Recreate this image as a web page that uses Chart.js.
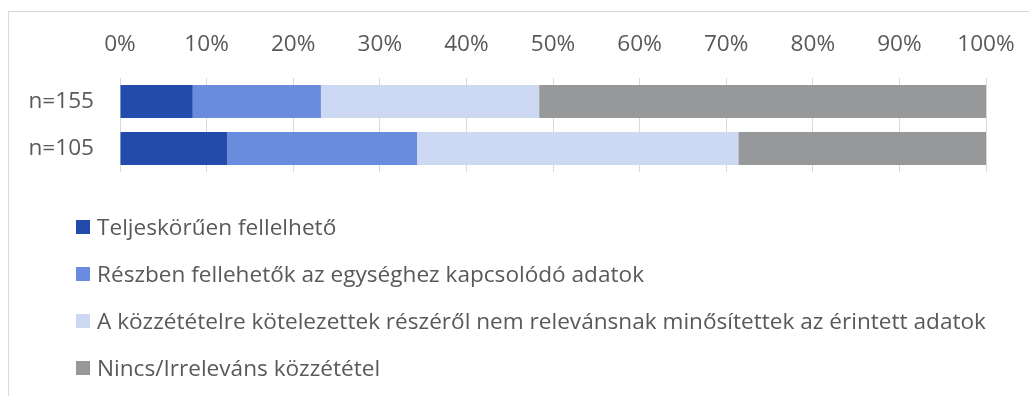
<!DOCTYPE html>
<html>
<head>
<meta charset="utf-8">
<script src="https://cdn.jsdelivr.net/npm/chart.js@4/dist/chart.umd.min.js"></script>
<style>
  html, body { margin: 0; padding: 0; width: 1029px; height: 396px; overflow: hidden; background: #fff; }
  #frame { position: absolute; left: 8px; top: 11px; width: 1100px; height: 500px; border: 1px solid #d9d9d9; box-sizing: border-box; }
  #wrap { position: absolute; left: 0; top: 0; width: 1029px; height: 396px; }
  #legend { position: absolute; left: 76px; top: 203px; margin: 0; padding: 0; list-style: none;
            font-family: "Open Sans", "Noto Sans", sans-serif; font-size: 22.6px; color: #595959; }
  #legend li { display: flex; align-items: center; height: 47px; white-space: nowrap; }
  #legend .sw { display: inline-block; width: 14px; height: 14px; margin-right: 7px; }
</style>
</head>
<body>
<div id="frame"></div>
<div id="wrap"><canvas id="c" width="1029" height="396"></canvas></div>
<ul id="legend"></ul>
<script>
// Row labels (sample sizes)
const categories = ["n=155", "n=105"];

// Series names
const seriesNames = [
  "Teljeskörűen fellelhető",
  "Részben fellehetők az egységhez kapcsolódó adatok",
  "A közzétételre kötelezettek részéről nem relevánsnak minősítettek az érintett adatok",
  "Nincs/Irreleváns közzététel"
];

// Share of each answer, percent of row
const fullyAvailable   = [8.4, 12.4];
const partlyAvailable  = [14.8, 21.9];
const notRelevant      = [25.2, 37.1];
const noneIrrelevant   = [51.6, 28.6];

// Axis ticks (percent)
const tickValues = [0, 10, 20, 30, 40, 50, 60, 70, 80, 90, 100];

const seriesColors = ["#234BAC", "#6A8CDF", "#CDD8F2", "#97989A"];
const seriesValues = [fullyAvailable, partlyAvailable, notRelevant, noneIrrelevant];

const FONT = "'Open Sans', 'Noto Sans', sans-serif";

const datasets = seriesNames.map((name, i) => ({
  label: name,
  data: seriesValues[i],
  backgroundColor: seriesColors[i],
  borderWidth: 0,
  barPercentage: 0.7,
  categoryPercentage: 1.0
}));

new Chart(document.getElementById("c"), {
  type: "bar",
  data: { labels: categories, datasets },
  options: {
    indexAxis: "y",
    responsive: false,
    animation: false,
    layout: { padding: { left: 0, top: 0, right: 43, bottom: 224 } },
    plugins: { legend: { display: false }, tooltip: { enabled: false } },
    scales: {
      x: {
        position: "top",
        stacked: true,
        min: 0,
        max: 100,
        afterFit: s => { s.height = 78; s.paddingLeft = 0; s.paddingRight = 0; },
        afterBuildTicks: s => { s.ticks = tickValues.map(v => ({ value: v })); },
        border: { display: false },
        grid: { color: "#d9d9d9", lineWidth: 1, drawTicks: false },
        ticks: {
          padding: 20,
          color: "#595959",
          font: { family: FONT, size: 22.6 },
          callback: v => v + "%"
        }
      },
      y: {
        stacked: true,
        afterFit: s => { s.width = 120; s.paddingTop = 0; s.paddingBottom = 0; },
        border: { display: false },
        grid: { display: false, drawTicks: false },
        ticks: {
          padding: 26,
          color: "#595959",
          font: { family: FONT, size: 22.6 }
        }
      }
    }
  }
});

// Legend list, one entry per row
const legend = document.getElementById("legend");
seriesNames.forEach((name, i) => {
  const li = document.createElement("li");
  const sw = document.createElement("span");
  sw.className = "sw";
  sw.style.background = seriesColors[i];
  li.appendChild(sw);
  li.appendChild(document.createTextNode(name));
  legend.appendChild(li);
});
</script>
</body>
</html>
